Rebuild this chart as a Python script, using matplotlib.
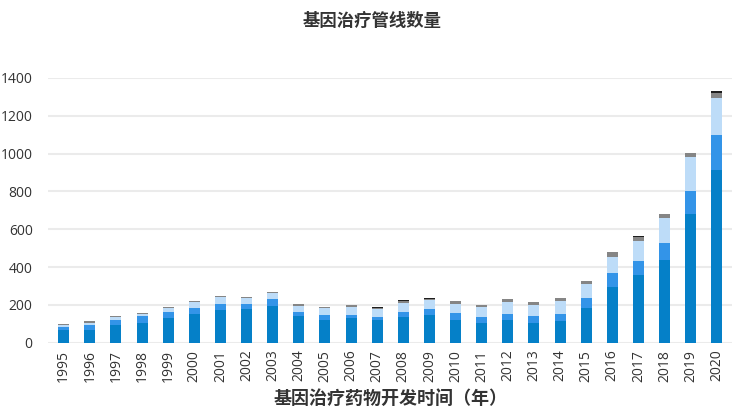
import numpy as np
import matplotlib
matplotlib.use("Agg")
import matplotlib.pyplot as plt

plt.rcParams['font.family'] = ['Noto Sans CJK SC', 'DejaVu Sans']

years = [str(y) for y in range(1995, 2021)]

# stacked segments, bottom to top
s1 = [70, 70, 95, 105, 132, 153, 174, 177, 196, 143, 123, 130, 120, 136, 148, 120, 106, 121, 106, 117, 186, 297, 359, 435, 681, 911]
s2 = [14, 26, 28, 34, 31, 31, 31, 26, 34, 19, 23, 18, 17, 28, 30, 38, 30, 32, 33, 33, 49, 73, 71, 94, 123, 186]
s3 = [11, 11, 12, 14, 23, 32, 39, 34, 33, 33, 37, 42, 39, 45, 46, 46, 52, 60, 60, 73, 73, 83, 106, 131, 180, 197]
s4 = [4, 7, 5, 5, 2, 3, 3, 4, 7, 9, 6, 9, 9, 14, 9, 16, 11, 16, 16, 14, 21, 27, 22, 23, 18, 28]
s5 = [0, 0, 0, 0, 0, 0, 0, 1, 0, 0, 1, 0, 2, 2, 3, 0, 0, 2, 0, 0, 0, 0, 5, 0, 2, 9]

colors = ['#0580C8', '#3394E8', '#BDDCF8', '#858585', '#1E1E1E']

fig = plt.figure(figsize=(7.44, 4.16), dpi=100)
ax = fig.add_axes([0.0645, 0.176, 0.92, 0.637])

x = np.arange(len(years))
bottom = np.zeros(len(years))
for vals, c in zip([s1, s2, s3, s4, s5], colors):
    ax.bar(x, vals, 0.42, bottom=bottom, color=c, zorder=3)
    bottom += np.array(vals)

ax.set_ylim(0, 1400)
ax.set_xlim(-0.6, len(years) - 0.4)
ax.set_yticks(range(0, 1401, 200))
ax.set_xticks(x)
ax.set_xticklabels(years, rotation=90)
ax.tick_params(axis='both', length=0, labelsize=10, colors='#333333')
ax.tick_params(axis='x', pad=5)
ax.tick_params(axis='y', pad=11)
for lab in ax.get_xticklabels() + ax.get_yticklabels():
    lab.set_family('Open Sans')
for s in ax.spines.values():
    s.set_visible(False)
ax.grid(axis='y', color='#EBEBEB', linewidth=1.5, zorder=0)

fig.text(0.5, 0.95, '基因治疗管线数量', ha='center', va='center', fontsize=12.5,
         fontweight='bold', color='#333333')
ax.set_xlabel('基因治疗药物开发时间（年）', fontsize=13, fontweight='bold',
              color='#333333', labelpad=5)

fig.savefig('out.png', dpi=100)
